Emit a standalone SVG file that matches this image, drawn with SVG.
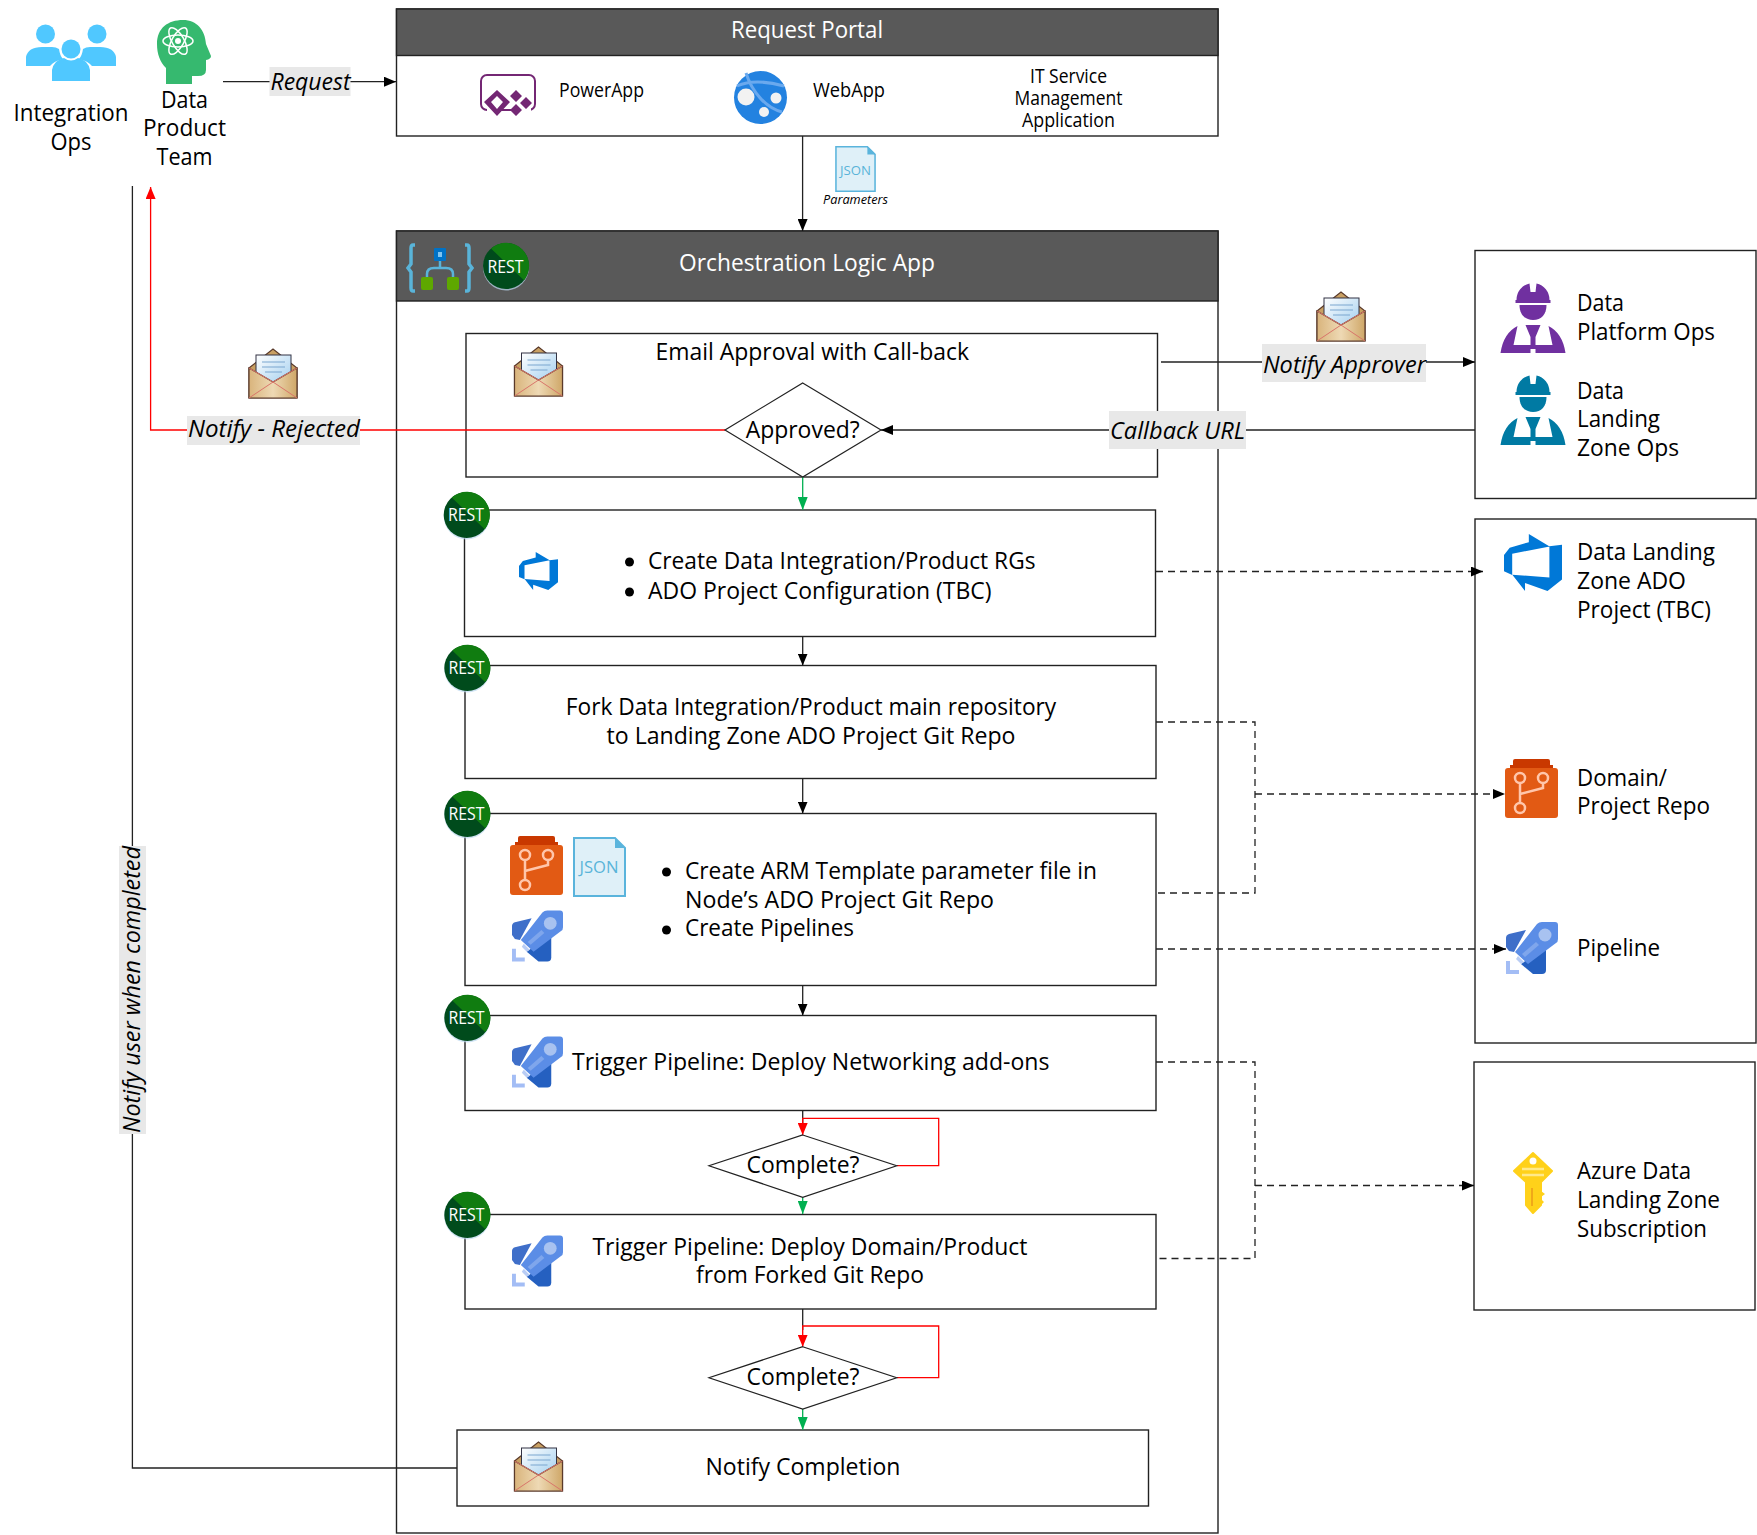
<svg xmlns="http://www.w3.org/2000/svg" width="1757" height="1535" viewBox="0 0 1757 1535">
<style>
text{font-family:"Open Sans","Noto Sans","DejaVu Sans",sans-serif;font-size:23px;fill:#000}
.m{text-anchor:middle}
.w{fill:#fff}
.s{font-size:19.5px}
.i{font-style:italic}
.box{fill:#fff;stroke:#222;stroke-width:1.4}
.hdr{fill:#595959;stroke:#222;stroke-width:1.4}
.dia{fill:#fff;stroke:#222;stroke-width:1.2}
.lbl{fill:#e8e8e8}
.c{fill:none;stroke:#222;stroke-width:1.3}
.ar{marker-end:url(#ab)}
.r{fill:none;stroke:#f00;stroke-width:1.3}
.g{fill:none;stroke:#00b050;stroke-width:1.3;marker-end:url(#ag)}
.d{stroke-dasharray:7 5}
.bt{fill:#000}
</style>
<defs>
<marker id="ab" markerUnits="userSpaceOnUse" markerWidth="12" markerHeight="10" viewBox="0 0 12 10" refX="12" refY="5" orient="auto"><path d="M0 0L12 5L0 10Z" fill="#000"/></marker>
<marker id="ar" markerUnits="userSpaceOnUse" markerWidth="12" markerHeight="10" viewBox="0 0 12 10" refX="12" refY="5" orient="auto"><path d="M0 0L12 5L0 10Z" fill="#f00"/></marker>
<marker id="ag" markerUnits="userSpaceOnUse" markerWidth="13" markerHeight="10" viewBox="0 0 13 10" refX="13" refY="5" orient="auto"><path d="M0 0L13 5L0 10Z" fill="#00b050"/></marker>
<linearGradient id="tan" x1="0" x2="1" y1="0" y2="0"><stop offset="0" stop-color="#d9b47c"/><stop offset=".5" stop-color="#eed9b4"/><stop offset="1" stop-color="#cfa768"/></linearGradient>
<linearGradient id="let" x1="0" x2="1" y1="0" y2="1"><stop offset="0" stop-color="#fff"/><stop offset="1" stop-color="#9fcdee"/></linearGradient>
<symbol id="env" viewBox="0 0 50 50" overflow="visible">
<path d="M1 19L25 0L49 19V49H1Z" fill="#c9a063" stroke="#5a3a2a" stroke-width="1.2"/>
<rect x="8" y="6" width="35" height="30" fill="url(#let)" stroke="#334" stroke-width="1"/>
<path d="M14 13H37M14 18H37M17 23H34" stroke="#7ba6cf" stroke-width="1"/>
<path d="M1 19L25 33L49 19V49H1Z" fill="url(#tan)" stroke="#5a3a2a" stroke-width="1.2"/>
<path d="M1 19L25 33L49 19M1 49L25 33L49 49" fill="none" stroke="#d9756a" stroke-width="1"/>
</symbol>
<symbol id="rest" viewBox="-25 -25 50 50" overflow="visible">
<circle cx="0" cy="1.5" r="23" fill="#bcd8f0" opacity=".7"/>
<circle r="23" fill="#004b1c"/>
<path d="M-15 -17.500A23 23 0 0 1 18 14.300Z" fill="#107c10"/>
</symbol>
<symbol id="worker" viewBox="0 0 65 70" overflow="visible">
<path d="M16 17A16.500 17 0 0 1 29 .4L30 9H35L36 .4A16.500 17 0 0 1 49 17H50V20H15V17Z"/>
<path d="M19 22H46C46 31 41 37 32.500 37S19 31 19 22Z"/>
<path d="M0 70Q3 50 17 43L13 62H30V54L25 42H40L35 54V62H52L48 43Q62 50 65 70H35V66H30V70Z"/>
</symbol>
<symbol id="rocket" viewBox="0 0 52 52" overflow="visible">
<path d="M0 16Q0 13 3 12L20 8L8 30L3 29L0 25Z" fill="#3f6fc9"/>
<path d="M40 24V48Q40 52 36 52H27L15 42Z" fill="#2560c0"/>
<path d="M31 2Q33 0 36 0H49Q52 0 52 3V17Q52 20 50 21L22 42L9 30Z" fill="#5b8de6"/>
<circle cx="39" cy="13" r="6.500" fill="#a8c2f0"/>
<path d="M30 20L33 23L19 35L16 32Z" fill="#7fa6ec"/>
<path d="M12 34L18 40L15 42L10 37Z" fill="#b9cdf5"/>
<path d="M0 39H4V48H13V52H0Z" fill="#a3bdf5"/>
</symbol>
<symbol id="repo" viewBox="0 0 53 59" overflow="visible">
<path d="M5 12V6H8V2Q8 0 10 0H43Q45 0 45 2V6H48V12Z" fill="#c93800"/>
<rect y="9" width="53" height="50" rx="3" fill="#e25a14"/>
<g fill="none" stroke="#ffc6ab" stroke-width="2.500">
<circle cx="15" cy="19" r="5"/><circle cx="38" cy="19" r="5"/><circle cx="15" cy="49" r="5"/>
<path d="M15 24V44M38 24V29L15 35"/>
</g>
</symbol>
<symbol id="json" viewBox="0 0 53 60" overflow="visible">
<path d="M1 1H42L52 11V59H1Z" fill="#dff0f8" stroke="#5ab4dc" stroke-width="2"/>
<path d="M42 1L52 11H42Z" fill="#5ab4dc"/>
</symbol>
<symbol id="ado" viewBox="1 1 16 16" preserveAspectRatio="none" overflow="visible">
<path d="M17 4v9.740l-4 3.280-6.200-2.260V17L3.290 12.410l10.230.8V4.440Zm-3.410.49L7.850 1V3.290L2.580 4.840 1 6.870v4.610l2.260 1V6.570Z" fill="#0078d7"/>
</symbol>
</defs>

<g id="integration-ops">
<g fill="#50c8ff">
<circle cx="45.500" cy="34" r="9.500"/><circle cx="97" cy="34" r="9.500"/>
<path d="M26 66V57Q28 47 42 47H52Q56 47 59 49Q60 56 63 59Q54 61 50 66Z"/>
<path d="M116 66V57Q114 47 100 47H90Q86 47 83 49Q82 56 79 59Q88 61 92 66Z"/>
<circle cx="71" cy="49" r="9.500"/>
<path d="M52 81V70Q54 60 64 58Q71 63 78 58Q88 60 90 70V81Z"/>
</g>
<text class="m" x="71" y="121" textLength="115" lengthAdjust="spacingAndGlyphs">Integration</text>
<text class="m" x="71" y="149.500" textLength="41" lengthAdjust="spacingAndGlyphs">Ops</text>
</g>

<g id="data-product-team">
<path d="M166 84V68C160 62 157 54 157 44C157 28 168 20 183 20C197 20 205 30 206 44L211 56Q211 59 206 60V70Q206 76 198 76H192V84Z" fill="#36b96f"/>
<g fill="none" stroke="#fff" stroke-width="1.500"><ellipse cx="178" cy="41" rx="15" ry="6"/><ellipse cx="178" cy="41" rx="15" ry="6" transform="rotate(60 178 41)"/><ellipse cx="178" cy="41" rx="15" ry="6" transform="rotate(120 178 41)"/></g>
<circle cx="178" cy="41" r="3" fill="#fff"/>
<text class="m" x="184.500" y="108" textLength="47" lengthAdjust="spacingAndGlyphs">Data</text>
<text class="m" x="184.500" y="136" textLength="83" lengthAdjust="spacingAndGlyphs">Product</text>
<text class="m" x="184.500" y="165" textLength="56" lengthAdjust="spacingAndGlyphs">Team</text>
</g>

<g id="request-portal">
<rect class="box" x="396.500" y="9" width="821.500" height="127"/>
<rect class="hdr" x="396.500" y="9" width="821.500" height="46.500"/>
<text class="m w" x="807" y="38" textLength="152" lengthAdjust="spacingAndGlyphs">Request Portal</text>
<g id="powerapp-icon">
<rect x="481" y="75" width="54" height="35" rx="6" fill="none" stroke="#742774" stroke-width="2"/>
<path d="M487 102L499 112V118H517V110L531 100V118H487Z" fill="#fff"/>
<path d="M497 90L510 102L497 116L484 102ZM497 96L491 102L497 109L503 102Z" fill="#742774" fill-rule="evenodd"/>
<path d="M516 90L522 96L516 102L510 96ZM526 97L532 103L526 109L520 103ZM516 104L522 110L516 116L510 110Z" fill="#742774"/>
</g>
<text class="s" x="559" y="97" textLength="85" lengthAdjust="spacingAndGlyphs">PowerApp</text>
<g id="webapp-icon">
<circle cx="760.500" cy="97.500" r="26.500" fill="#2382e0"/>
<path d="M746 73C752 92 766 108 782 112M737 86Q755 78 784 86" fill="none" stroke="#6aa9ee" stroke-width="3"/>
<circle cx="746" cy="97" r="8.500" fill="#f2f2f2"/><circle cx="776" cy="98" r="5.500" fill="#f2f2f2"/><circle cx="764" cy="112" r="5" fill="#f2f2f2"/>
</g>
<text class="s" x="813" y="97" textLength="72" lengthAdjust="spacingAndGlyphs">WebApp</text>
<text class="s m" x="1068.500" y="83" textLength="77" lengthAdjust="spacingAndGlyphs">IT Service</text>
<text class="s m" x="1068.500" y="105" textLength="108" lengthAdjust="spacingAndGlyphs">Management</text>
<text class="s m" x="1068.500" y="127" textLength="93" lengthAdjust="spacingAndGlyphs">Application</text>
</g>

<g id="orchestration">
<rect class="box" x="396.500" y="231" width="821.500" height="1302"/>
<rect class="hdr" x="396.500" y="231" width="821.500" height="70"/>
<text class="m w" x="807" y="271" textLength="256" lengthAdjust="spacingAndGlyphs">Orchestration Logic App</text>
<g id="logic-icon">
<path d="M415 245H413Q411 245 411 248V264L408 268L411 272V288Q411 291 413 291H415M465 245H467Q469 245 469 248V264L472 268L469 272V288Q469 291 467 291H465" fill="none" stroke="#59b4d9" stroke-width="3.500"/>
<rect x="434" y="248" width="12" height="13" rx="1" fill="#0072c6"/><rect x="438" y="252" width="4" height="5" fill="#7fc4f0"/>
<path d="M440 261V268M427 278V274Q427 268 434 268H446Q453 268 453 274V278" fill="none" stroke="#59b4d9" stroke-width="2.500"/>
<rect x="421" y="277" width="12" height="13" rx="2" fill="#5ea800"/><rect x="447" y="277" width="12" height="13" rx="2" fill="#5ea800"/>
</g>
<use href="#rest" x="481" y="241" width="50" height="50"/>
<text class="w m" x="505.500" y="273" style="font-size:18px" textLength="36" lengthAdjust="spacingAndGlyphs">REST</text>
</g>

<g id="email-approval">
<rect class="box" x="466" y="333.500" width="691.500" height="143.500"/>
<use href="#env" x="513.500" y="347" width="50" height="50"/>
<text x="655.500" y="360" textLength="313.500" lengthAdjust="spacingAndGlyphs">Email Approval with Call-back</text>
</g>

<g id="step-rgs">
<rect class="box" x="464.500" y="510" width="691" height="126.500"/>
<use href="#ado" x="519" y="552" width="39" height="38"/>
<circle class="bt" cx="629.500" cy="562" r="4.500"/><circle class="bt" cx="629.500" cy="592" r="4.500"/>
<text x="648" y="569" textLength="387.500" lengthAdjust="spacingAndGlyphs">Create Data Integration/Product RGs</text>
<text x="648" y="599" textLength="343.500" lengthAdjust="spacingAndGlyphs">ADO Project Configuration (TBC)</text>
</g>
<g id="step-fork">
<rect class="box" x="465" y="665.500" width="691" height="113"/>
<text class="m" x="811" y="715" textLength="490.500" lengthAdjust="spacingAndGlyphs">Fork Data Integration/Product main repository</text>
<text class="m" x="811" y="744" textLength="409" lengthAdjust="spacingAndGlyphs">to Landing Zone ADO Project Git Repo</text>
</g>
<g id="step-arm">
<rect class="box" x="465" y="813.500" width="691" height="172"/>
<use href="#repo" x="510" y="836" width="53" height="59"/>
<use href="#json" x="573" y="837" width="53" height="60"/>
<text class="m" x="599" y="873" style="font-size:15.500px;fill:#59b4d9" textLength="39" lengthAdjust="spacingAndGlyphs">JSON</text>
<use href="#rocket" x="512" y="910" width="51" height="52"/>
<circle class="bt" cx="666.500" cy="872" r="4.500"/><circle class="bt" cx="666.500" cy="930" r="4.500"/>
<text x="685" y="879" textLength="412" lengthAdjust="spacingAndGlyphs">Create ARM Template parameter file in</text>
<text x="685" y="908" textLength="309" lengthAdjust="spacingAndGlyphs">Node’s ADO Project Git Repo</text>
<text x="685" y="936" textLength="169" lengthAdjust="spacingAndGlyphs">Create Pipelines</text>
</g>
<g id="step-networking">
<rect class="box" x="465" y="1015.500" width="691" height="95"/>
<use href="#rocket" x="512" y="1036" width="51" height="52"/>
<text x="572" y="1070" textLength="477.500" lengthAdjust="spacingAndGlyphs">Trigger Pipeline: Deploy Networking add-ons</text>
</g>
<g id="step-domain">
<rect class="box" x="465" y="1214.500" width="691" height="94.500"/>
<use href="#rocket" x="512" y="1235" width="51" height="52"/>
<text class="m" x="810" y="1255" textLength="435" lengthAdjust="spacingAndGlyphs">Trigger Pipeline: Deploy Domain/Product</text>
<text class="m" x="810" y="1283" textLength="228" lengthAdjust="spacingAndGlyphs">from Forked Git Repo</text>
</g>
<g id="notify-completion">
<rect class="box" x="457" y="1430" width="691.500" height="76"/>
<use href="#env" x="513.500" y="1442" width="50" height="50"/>
<text class="m" x="803" y="1475" textLength="195" lengthAdjust="spacingAndGlyphs">Notify Completion</text>
</g>

<g id="ops-box">
<rect class="box" x="1475" y="250.500" width="281" height="248"/>
<use href="#worker" x="1500.500" y="283" width="65" height="70" fill="#7030a0"/>
<use href="#worker" x="1500.500" y="375" width="65" height="70" fill="#007aa3"/>
<text x="1577" y="311" textLength="47" lengthAdjust="spacingAndGlyphs">Data</text>
<text x="1577" y="340" textLength="138" lengthAdjust="spacingAndGlyphs">Platform Ops</text>
<text x="1577" y="399" textLength="47" lengthAdjust="spacingAndGlyphs">Data</text>
<text x="1577" y="427" textLength="83" lengthAdjust="spacingAndGlyphs">Landing</text>
<text x="1577" y="456" textLength="102" lengthAdjust="spacingAndGlyphs">Zone Ops</text>
</g>
<g id="project-box">
<rect class="box" x="1475" y="519" width="281" height="524"/>
<use href="#ado" x="1504" y="534" width="58" height="57"/>
<text x="1577" y="560" textLength="138" lengthAdjust="spacingAndGlyphs">Data Landing</text>
<text x="1577" y="589" textLength="109" lengthAdjust="spacingAndGlyphs">Zone ADO</text>
<text x="1577" y="618" textLength="134" lengthAdjust="spacingAndGlyphs">Project (TBC)</text>
<use href="#repo" x="1505" y="759" width="53" height="59"/>
<text x="1577" y="786" textLength="90" lengthAdjust="spacingAndGlyphs">Domain/</text>
<text x="1577" y="814" textLength="133" lengthAdjust="spacingAndGlyphs">Project Repo</text>
<use href="#rocket" x="1506" y="922" width="52" height="52"/>
<text x="1577" y="956" textLength="83" lengthAdjust="spacingAndGlyphs">Pipeline</text>
</g>
<g id="subscription-box">
<rect class="box" x="1474" y="1062" width="281" height="248"/>
<g id="key-icon">
<path d="M1533 1153L1552 1171L1541 1182V1205L1533 1213L1526 1205V1182L1514 1171Z" fill="#ffd11a" stroke="#ffd11a" stroke-linejoin="round" stroke-width="2"/>
<circle cx="1533" cy="1161" r="3.500" fill="#fff"/>
<path d="M1522 1169H1544M1522 1175H1544" stroke="#ffe98a" stroke-width="2.500"/>
<path d="M1532 1188V1206" stroke="#f0a818" stroke-width="2"/>
<path d="M1541 1191L1545 1194L1541 1197M1541 1199L1544 1202L1541 1205Z" fill="#ffd11a"/>
</g>
<text x="1577" y="1179" textLength="114" lengthAdjust="spacingAndGlyphs">Azure Data</text>
<text x="1577" y="1208" textLength="143" lengthAdjust="spacingAndGlyphs">Landing Zone</text>
<text x="1577" y="1237" textLength="130" lengthAdjust="spacingAndGlyphs">Subscription</text>
</g>

<g id="connectors">
<path class="c ar" d="M223 81.700H396"/>
<path class="c ar" d="M802.600 136V231"/>
<path class="c ar" d="M1161 362H1475"/>
<path class="c ar" d="M1475 430H881"/>
<path class="r" style="marker-end:url(#ar)" d="M725 430H150.600V187"/>
<path class="c" d="M457 1468H132.400V186"/>
<path class="g" d="M802.700 477V510"/>
<path class="c ar" d="M802.700 636.500V665.500"/>
<path class="c ar" d="M802.700 778.700V813.500"/>
<path class="c ar" d="M802.700 985.500V1015.500"/>
<path class="c" d="M802.700 1110.500V1125"/>
<path class="r" style="marker-end:url(#ar)" d="M897 1165.700H938.700V1118.300H802.700V1135"/>
<path class="g" d="M802.700 1197.300V1214"/>
<path class="c" d="M802.700 1309V1330"/>
<path class="r" style="marker-end:url(#ar)" d="M897 1377.700H938.700V1326H802.700V1346.700"/>
<path class="g" d="M802.700 1409V1430"/>
<path class="c d ar" d="M1156 571.500H1483"/>
<path class="c d" d="M1156 722H1255V893H1156"/>
<path class="c d ar" d="M1255 794H1505"/>
<path class="c d ar" d="M1156 949H1506"/>
<path class="c d" d="M1156 1062H1255V1258.500H1156"/>
<path class="c d ar" d="M1255 1185.500H1474"/>
</g>

<g id="approved"><path class="dia" d="M802.700 383L881 430L802.700 477L725 430Z"/><text class="m" x="802.700" y="437.500" textLength="114" lengthAdjust="spacingAndGlyphs">Approved?</text></g>
<g id="complete-1"><path class="dia" d="M802.700 1135L896.700 1165.700L802.700 1197.300L709 1165.700Z"/><text class="m" x="803" y="1173" textLength="113" lengthAdjust="spacingAndGlyphs">Complete?</text></g>
<g id="complete-2"><path class="dia" d="M802.700 1346.700L896.700 1377.700L802.700 1409L709 1377.700Z"/><text class="m" x="803" y="1385" textLength="113" lengthAdjust="spacingAndGlyphs">Complete?</text></g>

<g id="rest-badges">
<use href="#rest" x="441.700" y="490" width="50" height="50"/>
<text class="w m" x="466" y="521" style="font-size:18px" textLength="36" lengthAdjust="spacingAndGlyphs">REST</text>
<use href="#rest" x="442.300" y="643" width="50" height="50"/>
<text class="w m" x="466.500" y="674" style="font-size:18px" textLength="36" lengthAdjust="spacingAndGlyphs">REST</text>
<use href="#rest" x="442.300" y="789" width="50" height="50"/>
<text class="w m" x="466.500" y="820" style="font-size:18px" textLength="36" lengthAdjust="spacingAndGlyphs">REST</text>
<use href="#rest" x="442.300" y="993" width="50" height="50"/>
<text class="w m" x="466.500" y="1024" style="font-size:18px" textLength="36" lengthAdjust="spacingAndGlyphs">REST</text>
<use href="#rest" x="442.300" y="1190" width="50" height="50"/>
<text class="w m" x="466.500" y="1221" style="font-size:18px" textLength="36" lengthAdjust="spacingAndGlyphs">REST</text>
</g>

<g id="labels">
<rect class="lbl" x="269.500" y="67" width="81" height="29"/>
<text class="i" x="270.500" y="90" textLength="80" lengthAdjust="spacingAndGlyphs">Request</text>
<use href="#json" x="834" y="146" width="43" height="46"/>
<text class="m" x="855.500" y="175" style="font-size:12.500px;fill:#59b4d9" textLength="31" lengthAdjust="spacingAndGlyphs">JSON</text>
<text class="i m" x="855.500" y="204" style="font-size:13px" textLength="65" lengthAdjust="spacingAndGlyphs">Parameters</text>
<rect class="lbl" x="1262" y="344" width="164" height="38"/>
<text class="i" x="1263" y="373" textLength="163" lengthAdjust="spacingAndGlyphs">Notify Approver</text>
<use href="#env" x="1316" y="292" width="50" height="50"/>
<rect class="lbl" x="1109" y="411" width="137" height="38"/>
<text class="i" x="1110" y="439" textLength="135" lengthAdjust="spacingAndGlyphs">Callback URL</text>
<rect class="lbl" x="187" y="416" width="173" height="29"/>
<text class="i" x="188" y="437" textLength="172" lengthAdjust="spacingAndGlyphs">Notify - Rejected</text>
<use href="#env" x="248" y="349" width="50" height="50"/>
<rect class="lbl" x="119" y="846" width="27" height="288"/>
<text class="i" transform="translate(140 1133) rotate(-90)" x="0" y="0" textLength="287" lengthAdjust="spacingAndGlyphs">Notify user when completed</text>
</g>
</svg>
